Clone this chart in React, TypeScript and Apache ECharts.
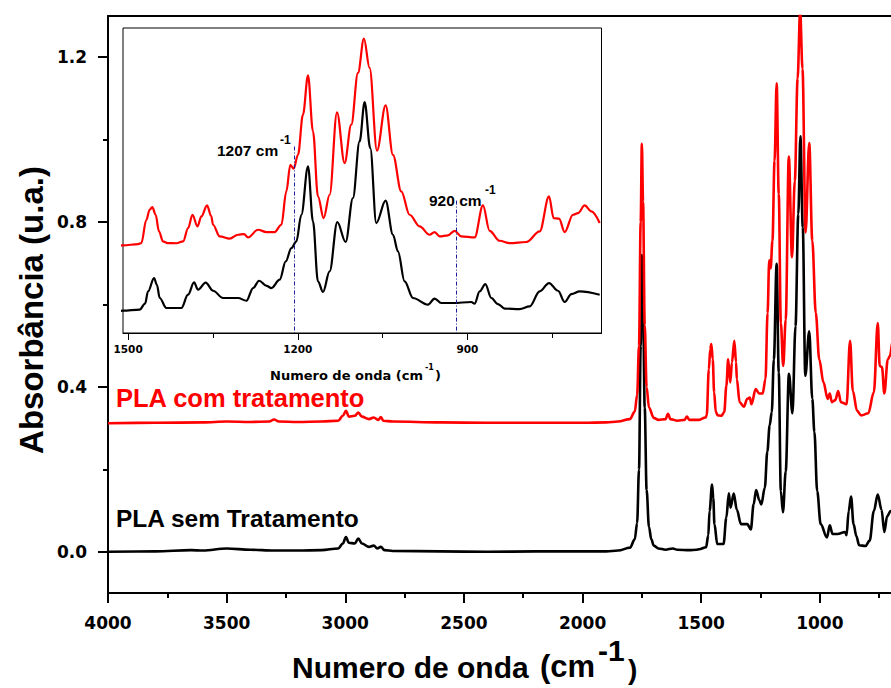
import React, { useEffect, useRef } from 'react';
import * as echarts from 'echarts';

// FTIR spectra of PLA, wavenumbers in cm-1 (descending), absorbance in u.a.
const redWavenumber = [
  4000, 3800, 3600, 3500, 3400, 3320, 3300, 3280, 3200, 3100, 3030, 3010, 2997, 2985, 2960, 2945, 2930,
  2900, 2880, 2860, 2850, 2840, 2800, 2600, 2400, 2200, 2000, 1900, 1850, 1800, 1780, 1770, 1762, 1755,
  1750, 1745, 1738, 1730, 1720, 1700, 1680, 1650, 1640, 1630, 1600, 1570, 1560, 1550, 1530,
  1509, 1482, 1476.6, 1467.7, 1461.9, 1457.2, 1451.3, 1445.4, 1438.3, 1430, 1414.5, 1402.7, 1393.9,
  1386.2, 1377.4, 1370.4, 1360.4, 1353, 1349.8, 1338, 1320.4, 1305.6, 1295, 1288, 1270.3, 1255.6,
  1240.9, 1229, 1220.2, 1213.2, 1207.3, 1199.6, 1190.8, 1181.9, 1173.1, 1164.3, 1154.3, 1143.7,
  1130.7, 1117.2, 1105.4, 1093.6, 1083, 1073, 1060, 1044.7, 1031.7, 1017, 1002.3, 984.6, 966.9,
  958.1, 949.2, 934.5, 922.7, 910.9, 887.3, 872.6, 860.8, 843.1, 825.4, 795.9, 772.3, 755.8, 747.6,
  738.1, 728.1, 713.4, 704.5, 692.7, 680.9, 666.2,
];
const redAbsorbance = [
  0.312, 0.313, 0.314, 0.316, 0.315, 0.316, 0.321, 0.316, 0.315, 0.316, 0.318, 0.33, 0.342, 0.328, 0.33, 0.338, 0.328,
  0.322, 0.326, 0.32, 0.327, 0.318, 0.316, 0.314, 0.313, 0.313, 0.313, 0.314, 0.316, 0.322, 0.34, 0.38, 0.5, 0.8,
  0.99, 0.85, 0.55, 0.4, 0.35, 0.325, 0.32, 0.322, 0.335, 0.322, 0.318, 0.32, 0.328, 0.32, 0.32,
  0.32, 0.326, 0.331, 0.443, 0.491, 0.504, 0.467, 0.387, 0.339, 0.331, 0.33, 0.339, 0.403,
  0.467, 0.411, 0.459, 0.512, 0.46, 0.419, 0.363, 0.352, 0.371, 0.374, 0.358, 0.395, 0.384,
  0.384, 0.419, 0.579, 0.707, 0.688, 0.755, 0.948, 1.137, 0.868, 0.555, 0.451, 0.563,
  0.959, 0.715, 0.9, 1.148, 1.313, 1.172, 0.775, 0.992, 0.755, 0.579, 0.467, 0.411, 0.371,
  0.384, 0.363, 0.368, 0.39, 0.363, 0.358, 0.512, 0.39, 0.342, 0.331, 0.336, 0.387, 0.555, 0.451,
  0.448, 0.384, 0.467, 0.475, 0.512, 0.483, 0.427,
];

const blackWavenumber = [
  4000, 3800, 3650, 3600, 3500, 3400, 3300, 3200, 3100, 3030, 3010, 2997, 2985, 2960, 2945, 2930, 2900,
  2880, 2865, 2850, 2835, 2800, 2600, 2400, 2200, 2000, 1900, 1850, 1800, 1780, 1770, 1762, 1755, 1750,
  1745, 1738, 1730, 1720, 1710, 1700, 1680, 1650, 1620, 1600, 1550, 1520,
  1509, 1479.5, 1470, 1464.7, 1454.1, 1449, 1444.1, 1432.3, 1405.8, 1394, 1383.4, 1376.3, 1362.8,
  1349.8, 1332.1, 1305.6, 1290.8, 1279, 1268.4, 1255, 1246.6, 1231.9, 1221.3, 1211.3, 1202.5, 1193.7,
  1181.9, 1173.1, 1164.3, 1155.4, 1143.7, 1130.1, 1115.4, 1102.5, 1090.7, 1081.8, 1071.8, 1061.2,
  1044.7, 1031.7, 1022.9, 1011.1, 996.3, 969.8, 958.1, 946.3, 925.6, 893.2, 887.3, 878.4, 868.4,
  857.8, 846, 834.2, 807.7, 790, 772.3, 755.8, 739.9, 728.1, 716.3, 701.6, 666.2,
];
const blackAbsorbance = [
  0.0, 0.001, 0.004, 0.003, 0.008, 0.005, 0.003, 0.003, 0.004, 0.008, 0.02, 0.036, 0.022, 0.02, 0.032, 0.02, 0.012,
  0.015, 0.008, 0.012, 0.004, 0.002, 0.001, 0.0, 0.001, 0.001, 0.001, 0.003, 0.01, 0.03, 0.07, 0.2, 0.5, 0.72,
  0.6, 0.35, 0.15, 0.06, 0.03, 0.015, 0.008, 0.005, 0.008, 0.005, 0.004, 0.005,
  0.006, 0.011, 0.04, 0.099, 0.163, 0.13, 0.067, 0.019, 0.019, 0.083, 0.142, 0.107, 0.141,
  0.102, 0.067, 0.067, 0.054, 0.115, 0.15, 0.125, 0.115, 0.155, 0.243, 0.307, 0.339, 0.467,
  0.699, 0.435, 0.147, 0.096, 0.195, 0.432, 0.336, 0.547, 0.819, 1.008, 0.787, 0.427,
  0.535, 0.371, 0.291, 0.147, 0.067, 0.035, 0.064, 0.043, 0.043, 0.048, 0.04, 0.099, 0.134,
  0.067, 0.038, 0.016, 0.014, 0.027, 0.099, 0.139, 0.102, 0.048, 0.086, 0.099, 0.083,
];

// Axis ticks
const mainMajorTicks = [1000, 1500, 2000, 2500, 3000, 3500, 4000];
const mainMinorTicks = [750, 1250, 1750, 2250, 2750, 3250, 3750];
const yMajorTicks = [0, 0.4, 0.8, 1.2];
const yMinorTicks = [0.2, 0.6, 1.0];
const insetMajorTicks = [900, 1200, 1500];
const insetMinorTicks = [750, 1050, 1350];

// Marked bands in the inset
const markedBands = [1207, 920];
const markedBandTops = [0.795, 0.535];

const seriesNames = ['PLA com tratamento', 'PLA sem Tratamento'];

const zip = (xs: number[], ys: number[]) => xs.map((x, i) => [x, ys[i]]);

const ARIAL = 'Liberation Sans, Arial, sans-serif';
const WIDE = 'DejaVu Sans, sans-serif';

const noLine = { show: false, onZero: false };

export default function App() {
  const ref = useRef<HTMLDivElement>(null);

  useEffect(() => {
    if (!ref.current) return;
    const chart = echarts.init(ref.current, undefined, { renderer: 'svg' });

    const red = zip(redWavenumber, redAbsorbance);
    const black = zip(blackWavenumber, blackAbsorbance);

    const mainTickLabel = {
      fontFamily: WIDE,
      fontWeight: 'bold' as const,
      fontSize: 17,
      color: '#000',
    };

    const mainX = { gridIndex: 0, type: 'value', inverse: true, min: 700, max: 4000, splitLine: { show: false } };
    const insetX = { gridIndex: 1, type: 'value', inverse: true, min: 663, max: 1509, splitLine: { show: false } };

    const option: any = {
      animation: false,
      backgroundColor: '#fff',
      grid: [
        { left: 108, right: 0, top: 16, bottom: 95, show: false },
        {
          left: 123,
          top: 28,
          width: 478.5,
          height: 305,
          show: true,
          borderColor: '#000',
          borderWidth: 1,
          backgroundColor: '#fff',
        },
      ],
      xAxis: [
        {
          ...mainX,
          position: 'bottom',
          axisLine: { show: true, onZero: false, lineStyle: { color: '#000', width: 2 } },
          axisTick: { show: true, customValues: mainMajorTicks, length: 10, lineStyle: { color: '#000', width: 2 } },
          axisLabel: {
            show: true,
            customValues: mainMajorTicks,
            margin: 21,
            ...mainTickLabel,
            formatter: (v: number) => String(v),
          },
        },
        {
          ...mainX,
          position: 'bottom',
          axisLine: noLine,
          axisTick: { show: true, customValues: mainMinorTicks, length: 5, lineStyle: { color: '#000', width: 2 } },
          axisLabel: { show: false },
        },
        {
          ...mainX,
          position: 'top',
          axisLine: { show: true, onZero: false, lineStyle: { color: '#000', width: 2 } },
          axisTick: { show: false },
          axisLabel: { show: false },
        },
        {
          ...insetX,
          position: 'bottom',
          axisLine: { show: true, onZero: false, lineStyle: { color: '#000', width: 1 } },
          axisTick: { show: true, customValues: insetMajorTicks, length: 7, lineStyle: { color: '#000', width: 1 } },
          axisLabel: {
            show: true,
            customValues: insetMajorTicks,
            margin: 10,
            fontFamily: WIDE,
            fontWeight: 'bold',
            fontSize: 10.5,
            color: '#000',
            formatter: (v: number) => String(v),
          },
        },
        {
          ...insetX,
          position: 'bottom',
          axisLine: noLine,
          axisTick: { show: true, customValues: insetMinorTicks, length: 5, lineStyle: { color: '#000', width: 1 } },
          axisLabel: { show: false },
        },
      ],
      yAxis: [
        {
          gridIndex: 0,
          type: 'value',
          min: -0.1,
          max: 1.3,
          position: 'left',
          axisLine: { show: true, onZero: false, lineStyle: { color: '#000', width: 2 } },
          axisTick: { show: true, customValues: yMajorTicks, length: 10, lineStyle: { color: '#000', width: 2 } },
          axisLabel: {
            show: true,
            customValues: yMajorTicks,
            margin: 21,
            ...mainTickLabel,
            formatter: (v: number) => v.toFixed(1),
          },
          splitLine: { show: false },
        },
        {
          gridIndex: 0,
          type: 'value',
          min: -0.1,
          max: 1.3,
          position: 'left',
          axisLine: noLine,
          axisTick: { show: true, customValues: yMinorTicks, length: 5, lineStyle: { color: '#000', width: 2 } },
          axisLabel: { show: false },
          splitLine: { show: false },
        },
        {
          gridIndex: 1,
          type: 'value',
          min: -0.101,
          max: 1.364,
          show: false,
          splitLine: { show: false },
        },
      ],
      series: [
        {
          name: seriesNames[0],
          type: 'line',
          xAxisIndex: 0,
          yAxisIndex: 0,
          data: red,
          showSymbol: false,
          smooth: 0.35,
          smoothMonotone: 'x',
          lineStyle: { color: '#ff0000', width: 2.6 },
          z: 3,
        },
        {
          name: seriesNames[1],
          type: 'line',
          xAxisIndex: 0,
          yAxisIndex: 0,
          data: black,
          showSymbol: false,
          smooth: 0.35,
          smoothMonotone: 'x',
          lineStyle: { color: '#000', width: 2.6 },
          z: 2,
        },
        {
          name: seriesNames[0] + ' (inset)',
          type: 'line',
          xAxisIndex: 3,
          yAxisIndex: 2,
          data: red,
          showSymbol: false,
          smooth: 0.35,
          smoothMonotone: 'x',
          lineStyle: { color: '#ff0000', width: 2.2 },
          z: 3,
        },
        {
          name: seriesNames[1] + ' (inset)',
          type: 'line',
          xAxisIndex: 3,
          yAxisIndex: 2,
          data: black,
          showSymbol: false,
          smooth: 0.35,
          smoothMonotone: 'x',
          lineStyle: { color: '#000', width: 2.2 },
          z: 2,
          markLine: {
            silent: true,
            symbol: 'none',
            label: { show: false },
            lineStyle: { color: '#1c1c9a', width: 1, type: [4, 2, 1, 2] },
            data: markedBands.map((b, i) => [
              { coord: [b, markedBandTops[i]] },
              { coord: [b, -0.101] },
            ]),
          },
        },
      ],
      graphic: [
        // y axis title
        {
          type: 'text',
          x: 31,
          y: 310,
          rotation: Math.PI / 2,
          style: {
            text: 'Absorbância (u.a.)',
            font: `bold 33px ${ARIAL}`,
            fill: '#000',
            align: 'center',
            verticalAlign: 'middle',
          },
        },
        // x axis title
        {
          type: 'text',
          x: 292,
          y: 682,
          style: { text: 'Numero de onda', font: `bold 30px ${ARIAL}`, fill: '#000', align: 'left', verticalAlign: 'bottom' },
        },
        {
          type: 'text',
          x: 540,
          y: 682,
          style: { text: '(cm', font: `bold 31px ${ARIAL}`, fill: '#000', align: 'left', verticalAlign: 'bottom' },
        },
        {
          type: 'text',
          x: 598,
          y: 665,
          style: { text: '-1', font: `bold 30px ${ARIAL}`, fill: '#000', align: 'left', verticalAlign: 'bottom' },
        },
        {
          type: 'text',
          x: 628,
          y: 683,
          style: { text: ')', font: `bold 28px ${ARIAL}`, fill: '#000', align: 'left', verticalAlign: 'bottom' },
        },
        // series labels
        {
          type: 'text',
          x: 116,
          y: 398,
          style: { text: seriesNames[0], font: `bold 25.5px ${ARIAL}`, fill: '#ff0000', align: 'left', verticalAlign: 'middle' },
        },
        {
          type: 'text',
          x: 116,
          y: 518,
          style: { text: seriesNames[1], font: `bold 24.5px ${ARIAL}`, fill: '#000', align: 'left', verticalAlign: 'middle' },
        },
        // inset band annotations
        {
          type: 'text',
          x: 217,
          y: 142,
          style: { text: '1207 cm', font: `bold 15.5px ${ARIAL}`, fill: '#000', align: 'left', verticalAlign: 'alphabetic' },
        },
        {
          type: 'text',
          x: 280,
          y: 134,
          style: { text: '-1', font: `bold 12px ${ARIAL}`, fill: '#000', align: 'left', verticalAlign: 'alphabetic' },
        },
        {
          type: 'text',
          x: 429,
          y: 192,
          style: { text: '920 cm', font: `bold 15.5px ${ARIAL}`, fill: '#000', align: 'left', verticalAlign: 'alphabetic' },
        },
        {
          type: 'text',
          x: 485,
          y: 184,
          style: { text: '-1', font: `bold 12px ${ARIAL}`, fill: '#000', align: 'left', verticalAlign: 'alphabetic' },
        },
        // inset x axis title
        {
          type: 'text',
          x: 270,
          y: 369,
          style: { text: 'Numero de onda (cm', font: `bold 13px ${WIDE}`, fill: '#000', align: 'left', verticalAlign: 'alphabetic' },
        },
        {
          type: 'text',
          x: 425,
          y: 363,
          style: { text: '-1', font: `bold 8px ${WIDE}`, fill: '#000', align: 'left', verticalAlign: 'alphabetic' },
        },
        {
          type: 'text',
          x: 435,
          y: 369,
          style: { text: ')', font: `bold 13px ${WIDE}`, fill: '#000', align: 'left', verticalAlign: 'alphabetic' },
        },
      ],
    };

    chart.setOption(option);
    return () => chart.dispose();
  }, []);

  return (
    <div
      ref={ref}
      style={{ position: 'absolute', left: 0, top: 0, width: 891, height: 688, background: '#fff' }}
    />
  );
}
